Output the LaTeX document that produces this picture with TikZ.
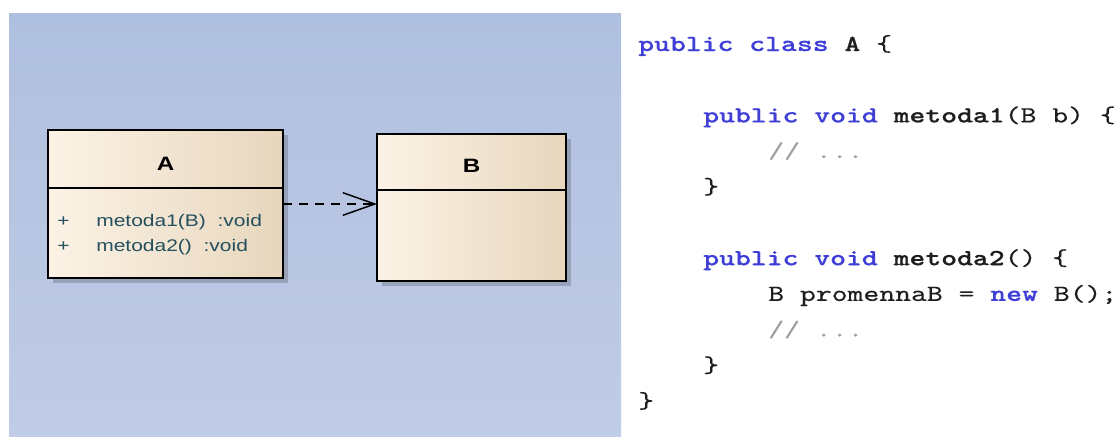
\documentclass[tikz,border=0pt]{standalone}
\usepackage{fontspec}
\usetikzlibrary{arrows.meta,shadows}
\newfontfamily\umlfont[FakeStretch=1.25]{Liberation Sans}
\newfontfamily\codefont{lmmono10-regular.otf}[BoldFont=lmmonolt10-bold.otf, FakeStretch=1.31, UprightFeatures={FakeBold=0.25}, BoldFeatures={FakeBold=0.6}]
\definecolor{bgtop}{HTML}{AFBFDF}
\definecolor{bgbot}{HTML}{C1CCE6}
\definecolor{boxl}{HTML}{FCF3E6}
\definecolor{boxr}{HTML}{E7D6BD}
\definecolor{umltext}{HTML}{24505E}
\definecolor{kwblue}{HTML}{3F3FD8}
\definecolor{cmtgray}{HTML}{A0A0A0}
\definecolor{codeblack}{HTML}{1E1E1E}
\newcommand{\kw}[1]{\textcolor{kwblue}{\bfseries #1}}
\newcommand{\cm}[1]{\textcolor{cmtgray}{#1}}
\tikzset{
  classbox/.style={draw=black, line width=1.1pt, left color=boxl, right color=boxr,
    inner sep=0pt, outer sep=0pt, anchor=north west,
    drop shadow={shadow xshift=3.75pt, shadow yshift=-3.75pt, fill=black, opacity=0.18}},
  divider/.style={draw=black, line width=1.1pt},
  classtitle/.style={font=\umlfont\bfseries\fontsize{14.5pt}{16pt}\selectfont, text=black, inner sep=0pt},
  member/.style={font=\umlfont\fontsize{12.6pt}{15pt}\selectfont, text=umltext, inner sep=0pt, anchor=base west},
  code/.style={font=\codefont\fontsize{17.3pt}{19pt}\selectfont, text=codeblack, inner sep=0pt, anchor=base west},
  dep/.style={line width=1.1pt, dash pattern=on 7pt off 5pt,
    -{Straight Barb[length=24pt, width=17pt, line width=1.1pt]}}
}
\begin{document}
\begin{tikzpicture}[x=0.75pt, y=-0.75pt]
\useasboundingbox (0,0) rectangle (1118,436);
% background panel
\fill[top color=bgtop, bottom color=bgbot] (9,13) rectangle (621,436);
% class A
\node[classbox, minimum width=176.25pt, minimum height=111pt] (A) at (48,130) {};
\coordinate (adiv) at (0,188);
\draw[divider] (A.west |- adiv) -- (A.east |- adiv);
\node[classtitle] (Atitle) at (165.5,164) {A};
\node[member] (pA1) at (57,226) {+};
\node[member] (mA1) at (96,226) {metoda1(B)\ \ :void};
\node[member] (pA2) at (57,251) {+};
\node[member] (mA2) at (96,251) {metoda2()\ \ :void};
% class B
\node[classbox, minimum width=141.75pt, minimum height=110.25pt] (B) at (377,134) {};
\coordinate (bdiv) at (0,190);
\draw[divider] (B.west |- bdiv) -- (B.east |- bdiv);
\node[classtitle] (Btitle) at (471.5,166) {B};
% dependency
\draw[dep] (A.east) -- (A.east -| B.west);
% code
\node[code] (c0) at (638,51) {\kw{public class} \textbf{A} \{};
\node[code] (c2) at (703,122.4) {\kw{public void} \textbf{metoda1}(B b) \{};
\node[code] (c3) at (768,158.1) {\cm{// ...}};
\node[code] (c4) at (703,193.8) {\}};
\node[code] (c6) at (703,265.2) {\kw{public void} \textbf{metoda2}() \{};
\node[code] (c7) at (768,300.9) {B promennaB = \kw{new} B();};
\node[code] (c8) at (768,336.6) {\cm{// ...}};
\node[code] (c9) at (703,372.3) {\}};
\node[code] (c10) at (638,408) {\}};
\end{tikzpicture}
\end{document}
